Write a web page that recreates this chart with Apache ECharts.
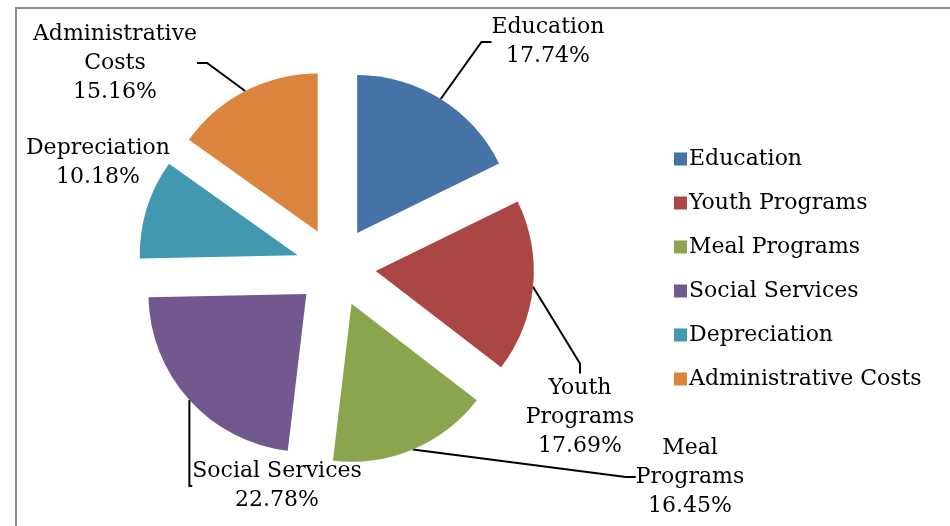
<!DOCTYPE html>
<html><head><meta charset="utf-8">
<script src="https://cdn.jsdelivr.net/npm/echarts@6/dist/echarts.min.js"></script>
<style>html,body{margin:0;padding:0;background:#fff}#c{width:950px;height:526px}</style>
</head><body><div id="c"></div>
<script>
const categories = ['Education','Youth Programs','Meal Programs','Social Services','Depreciation','Administrative Costs'];
const values = [17.74, 17.69, 16.45, 22.78, 10.18, 15.16];
const labelNames = ['Education','Youth\nPrograms','Meal\nPrograms','Social Services','Depreciation','Administrative\nCosts'];
const colors = ['#4572A7','#AA4643','#89A54E','#71588F','#4198AF','#DB843D'];

const FONT = 'DejaVu Serif';
const FS = 22;
const labelPos = [[548,42],[580,417],[690,477],[277,486],[98,163],[115,63]];
const CENTER = [336,267], R = 158, OFFSET = 40;

const chart = echarts.init(document.getElementById('c'), null, {renderer:'canvas'});
chart.setOption({
  animation:false,
  color: colors,
  graphic:[{type:'rect', shape:{x:16,y:8,width:960,height:560}, style:{fill:'none', stroke:'#8c8c8c', lineWidth:2}}],
  legend:{
    orient:'vertical', left:669, top:142, itemWidth:13, itemHeight:13, itemGap:20,
    icon:'rect',
    textStyle:{fontFamily:FONT, fontSize:FS, color:'#000', lineHeight:24, padding:[0,0,0,-3]},
    data: categories
  },
  series:[{
    type:'pie',
    center:CENTER,
    radius:R,
    startAngle:90,
    clockwise:true,
    selectedMode:'multiple',
    selectedOffset:OFFSET,
    emphasis:{disabled:true},
    label:{show:false}, labelLine:{show:false},
    data: categories.map((c,i)=>({name:c, value:values[i], selected:true}))
  },{
    type:'pie',
    center:CENTER,
    radius:R+OFFSET,
    startAngle:90,
    clockwise:true,
    silent:true,
    selectedMode:false,
    emphasis:{disabled:true},
    itemStyle:{color:'rgba(0,0,0,0)'},
    data: categories.map((c,i)=>({name:c, value:values[i],
      labelLine: i===4 ? {show:false} : undefined})),
    label:{
      show:true, position:'outside', color:'#000', fontFamily:FONT, fontSize:FS, lineHeight:29, align:'center',
      overflow:'none', edgeDistance:0, bleedMargin:0,
      formatter: p => labelNames[p.dataIndex] + '\n' + values[p.dataIndex].toFixed(2) + '%'
    },
    labelLine:{show:true, length:10, length2:10, lineStyle:{color:'#000', width:2}},
    labelLayout: p => ({x: labelPos[p.dataIndex][0], y: labelPos[p.dataIndex][1], align:'center', verticalAlign:'middle'})
  }]
});
</script></body></html>
